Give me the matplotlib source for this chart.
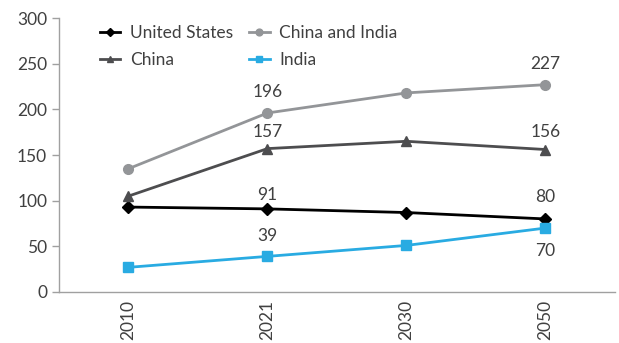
import matplotlib.pyplot as plt

years = ['2010', '2021', '2030', '2050']
us = [93, 91, 87, 80]
china = [105, 157, 165, 156]
china_india = [135, 196, 218, 227]
india = [27, 39, 51, 70]

# (series, index, text, offset in points)
labels = [
    (china_india, 1, '196', 9), (china_india, 3, '227', 9),
    (china, 1, '157', 6), (china, 3, '156', 7),
    (us, 1, '91', 4), (us, 3, '80', 10),
    (india, 1, '39', 9), (india, 3, '70', -11),
]

plt.rcParams['font.family'] = ['Lato', 'DejaVu Sans']
txt = '#404040'
axis_col = '#a0a0a0'

fig = plt.figure(figsize=(6.19, 3.43), dpi=100)
ax = fig.add_axes([0.0953, 0.1487, 0.898, 0.7988])

x = list(range(len(years)))
l_us, = ax.plot(x, us, color='black', marker='D', markersize=6, lw=2, label='United States')
l_ch, = ax.plot(x, china, color='#4d4d4f', marker='^', markersize=7, lw=2, label='China')
l_ci, = ax.plot(x, china_india, color='#939598', marker='o', markersize=7, lw=2, label='China and India')
l_in, = ax.plot(x, india, color='#29abe2', marker='s', markersize=7, lw=2, label='India')

for series, i, t, off in labels:
    ax.annotate(t, (i, series[i]), xytext=(0, off), textcoords='offset points',
                ha='center', va='bottom' if off > 0 else 'top', fontsize=12.5, color=txt)

ax.set_xlim(-0.5, 3.5)
ax.set_ylim(0, 300)
ax.set_yticks(range(0, 301, 50))
ax.set_xticks(x)
ax.set_xticklabels(years, rotation=90)
ax.tick_params(axis='y', colors=axis_col, labelcolor=txt, labelsize=12.5, length=5, width=1)
ax.tick_params(axis='x', length=0, labelcolor=txt, labelsize=12.5, pad=6)
for s in ['top', 'right']:
    ax.spines[s].set_visible(False)
for s in ['left', 'bottom']:
    ax.spines[s].set_color(axis_col)
    ax.spines[s].set_linewidth(1)

ax.legend(handles=[l_us, l_ch, l_ci, l_in], ncol=2, loc='upper left', bbox_to_anchor=(0.045, 1.03),
          frameon=False, fontsize=12.5, labelcolor=txt, handlelength=1.2, columnspacing=0.9,
          markerscale=0.7, handletextpad=0.55, labelspacing=0.6)

fig.savefig('out.png', dpi=100)
